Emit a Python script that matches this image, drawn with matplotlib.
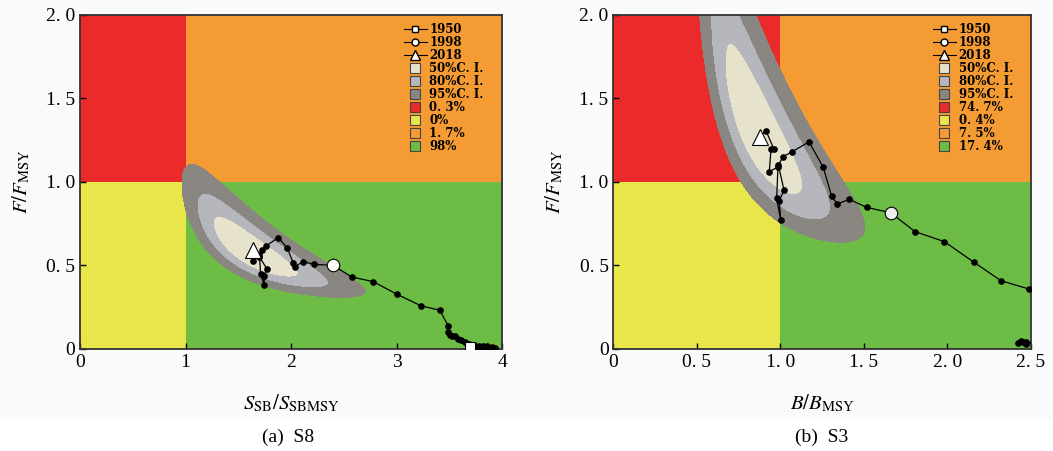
import numpy as np
import matplotlib
matplotlib.use("Agg")
import matplotlib.pyplot as plt
from matplotlib.lines import Line2D
from matplotlib.patches import Rectangle

# trajectory, left panel (S8): SSB/SSBmsy vs F/Fmsy, 1950 -> 2018
s8_x = [3.70, 3.76, 3.82, 3.87, 3.91, 3.93, 3.90, 3.86, 3.82, 3.78, 3.73, 3.69,
        3.65, 3.61, 3.58, 3.555, 3.53, 3.507, 3.49, 3.49, 3.41, 3.23, 3.00, 2.78,
        2.575, 2.40, 2.22, 2.11, 2.04, 2.02, 1.965, 1.88, 1.763, 1.72, 1.70, 1.769,
        1.744, 1.747, 1.712, 1.70, 1.637, 1.643]
s8_y = [0.012, 0.010, 0.012, 0.008, 0.006, 0.004, 0.012, 0.016, 0.018, 0.020, 0.026, 0.032,
        0.040, 0.052, 0.060, 0.078, 0.075, 0.084, 0.10, 0.138, 0.232, 0.259, 0.329, 0.403,
        0.431, 0.50, 0.507, 0.523, 0.493, 0.517, 0.603, 0.667, 0.617, 0.593, 0.553, 0.481,
        0.439, 0.381, 0.447, 0.56, 0.529, 0.593]
s8_i1998 = 25

# trajectory, right panel (S3): B/Bmsy vs F/Fmsy
s3_x = [2.62, 2.55, 2.47, 2.44, 2.42, 2.455, 2.47, 2.53, 2.70, 2.60, 2.488, 2.32,
        2.159, 1.981, 1.805, 1.66, 1.516, 1.412, 1.340, 1.306, 1.256, 1.171, 1.067,
        1.017, 0.987, 1.021, 0.993, 1.001, 0.977, 0.985, 0.933, 0.943, 0.961, 0.913, 0.877]
s3_y = [0.02, 0.03, 0.04, 0.048, 0.035, 0.04, 0.03, 0.05, 0.15, 0.28, 0.359, 0.409,
        0.519, 0.643, 0.703, 0.816, 0.848, 0.896, 0.868, 0.916, 1.088, 1.240, 1.180,
        1.152, 1.102, 0.952, 0.888, 0.772, 0.902, 1.090, 1.062, 1.196, 1.196, 1.307, 1.271]
s3_i1998 = 15

# lognormal confidence regions for the final year: median x, median y, sd(log x), sd(log y), rho
s8_ci = (1.616, 0.585, 0.210, 0.260, -0.825)
s3_ci = (0.870, 1.300, 0.224, 0.290, -0.817)

# Kobe quadrant probabilities (red, yellow, orange, green)
s8_pct = ["0. 3%", "0%", "1. 7%", "98%"]
s3_pct = ["74. 7%", "0. 4%", "7. 5%", "17. 4%"]

ci_levels = [0.0, -2 * np.log(0.5), -2 * np.log(0.2), -2 * np.log(0.05)]
ci_labels = ["50%C. I.", "80%C. I.", "95%C. I."]
ci_colors = ["#e7e2cc", "#b5b7bc", "#8a8782"]
zone_colors = {"red": "#ea2a2b", "yellow": "#e8e64b", "orange": "#f49b34", "green": "#6dbc45"}

plt.rcParams["font.family"] = ["Liberation Serif", "DejaVu Serif"]
plt.rcParams["mathtext.fontset"] = "stix"


def draw_panel(ax, xs, ys, i1998, ci, pct, xmax, xticks, xticklabels, xlabel, circ_color):
    ax.add_patch(Rectangle((0, 1), 1, 1.2, color=zone_colors["red"], lw=0, zorder=0))
    ax.add_patch(Rectangle((1, 1), xmax, 1.2, color=zone_colors["orange"], lw=0, zorder=0))
    ax.add_patch(Rectangle((0, 0), 1, 1, color=zone_colors["yellow"], lw=0, zorder=0))
    ax.add_patch(Rectangle((1, 0), xmax, 1, color=zone_colors["green"], lw=0, zorder=0))

    mx, my, sx, sy, rho = ci
    gx, gy = np.meshgrid(np.linspace(0.01, xmax, 600), np.linspace(0.01, 2.0, 600))
    u = (np.log(gx) - np.log(mx)) / sx
    v = (np.log(gy) - np.log(my)) / sy
    d2 = (u ** 2 - 2 * rho * u * v + v ** 2) / (1 - rho ** 2)
    ax.contourf(gx, gy, d2, levels=ci_levels, colors=ci_colors, zorder=1)

    ax.plot(xs, ys, color="black", lw=0.9, marker="o", ms=3.8, zorder=3, clip_on=True)
    ax.plot(xs[0], ys[0], marker="s", ms=7, mfc="white", mec="black", mew=0.8, zorder=4)
    ax.plot(xs[i1998], ys[i1998], marker="o", ms=9, mfc=circ_color, mec="black", mew=0.8, zorder=4)
    ax.plot(xs[-1], ys[-1], marker="^", ms=12, mfc="white", mec="black", mew=0.8, zorder=4)

    ax.set_xlim(0, xmax)
    ax.set_ylim(0, 2.0)
    ax.set_xticks(xticks)
    ax.set_xticklabels(xticklabels)
    ax.set_yticks([0, 0.5, 1.0, 1.5, 2.0])
    ax.set_yticklabels(["0", "0. 5", "1. 0", "1. 5", "2. 0"])
    ax.tick_params(direction="in", length=4, labelsize=14, width=1)
    for sp in ax.spines.values():
        sp.set_linewidth(1.3)
        sp.set_color("#333333")
    ax.set_xlabel(xlabel, fontsize=15, labelpad=16)
    ax.set_ylabel(r"$F/F_{\mathrm{MSY}}$", fontsize=15, labelpad=10)

    handles = [
        Line2D([], [], color="black", lw=0.8, marker="s", ms=5, mfc="white", mec="black"),
        Line2D([], [], color="black", lw=0.8, marker="o", ms=5, mfc="white", mec="black"),
        Line2D([], [], color="black", lw=0.8, marker="^", ms=7, mfc="white", mec="black"),
    ]
    for c in ci_colors:
        handles.append(Line2D([], [], ls="none", marker="s", ms=7, mfc=c, mec="#444444", mew=0.8))
    for key in ["red", "yellow", "orange", "green"]:
        handles.append(Line2D([], [], ls="none", marker="s", ms=7, mfc=zone_colors[key],
                              mec="#444444", mew=0.8))
    labels = ["1950", "1998", "2018"] + ci_labels + pct
    leg = ax.legend(handles, labels, loc="upper right", bbox_to_anchor=(0.975, 1.0),
                    frameon=False, labelspacing=0.0, handlelength=1.9,
                    handletextpad=0.25, borderpad=0.15,
                    prop={"family": "DejaVu Serif", "size": 8.5, "weight": "bold"})
    leg.set_zorder(5)


fig = plt.figure(figsize=(10.53, 4.51), dpi=100)
fig.patches.append(Rectangle((0, 1 - 418 / 451), 1, 418 / 451, transform=fig.transFigure,
                             color="#fafafa", zorder=-1))

ax1 = fig.add_axes([0.076, 0.2262, 0.4008, 0.7406])
ax2 = fig.add_axes([0.5826, 0.2262, 0.3965, 0.7406])

draw_panel(ax1, s8_x, s8_y, s8_i1998, s8_ci, s8_pct, 4.0, [0, 1, 2, 3, 4],
           ["0", "1", "2", "3", "4"], r"$S_{\mathrm{SB}}/S_{\mathrm{SBMSY}}$", "white")
draw_panel(ax2, s3_x, s3_y, s3_i1998, s3_ci, s3_pct, 2.5, [0, 0.5, 1.0, 1.5, 2.0, 2.5],
           ["0", "0. 5", "1. 0", "1. 5", "2. 0", "2. 5"], r"$B/B_{\mathrm{MSY}}$", "#eeeeee")

fig.text(0.2736, 1 - 437 / 451, "(a)  S8", ha="center", va="center", fontsize=14)
fig.text(0.7800, 1 - 437 / 451, "(b)  S3", ha="center", va="center", fontsize=14)

fig.savefig("out.png", dpi=100)
